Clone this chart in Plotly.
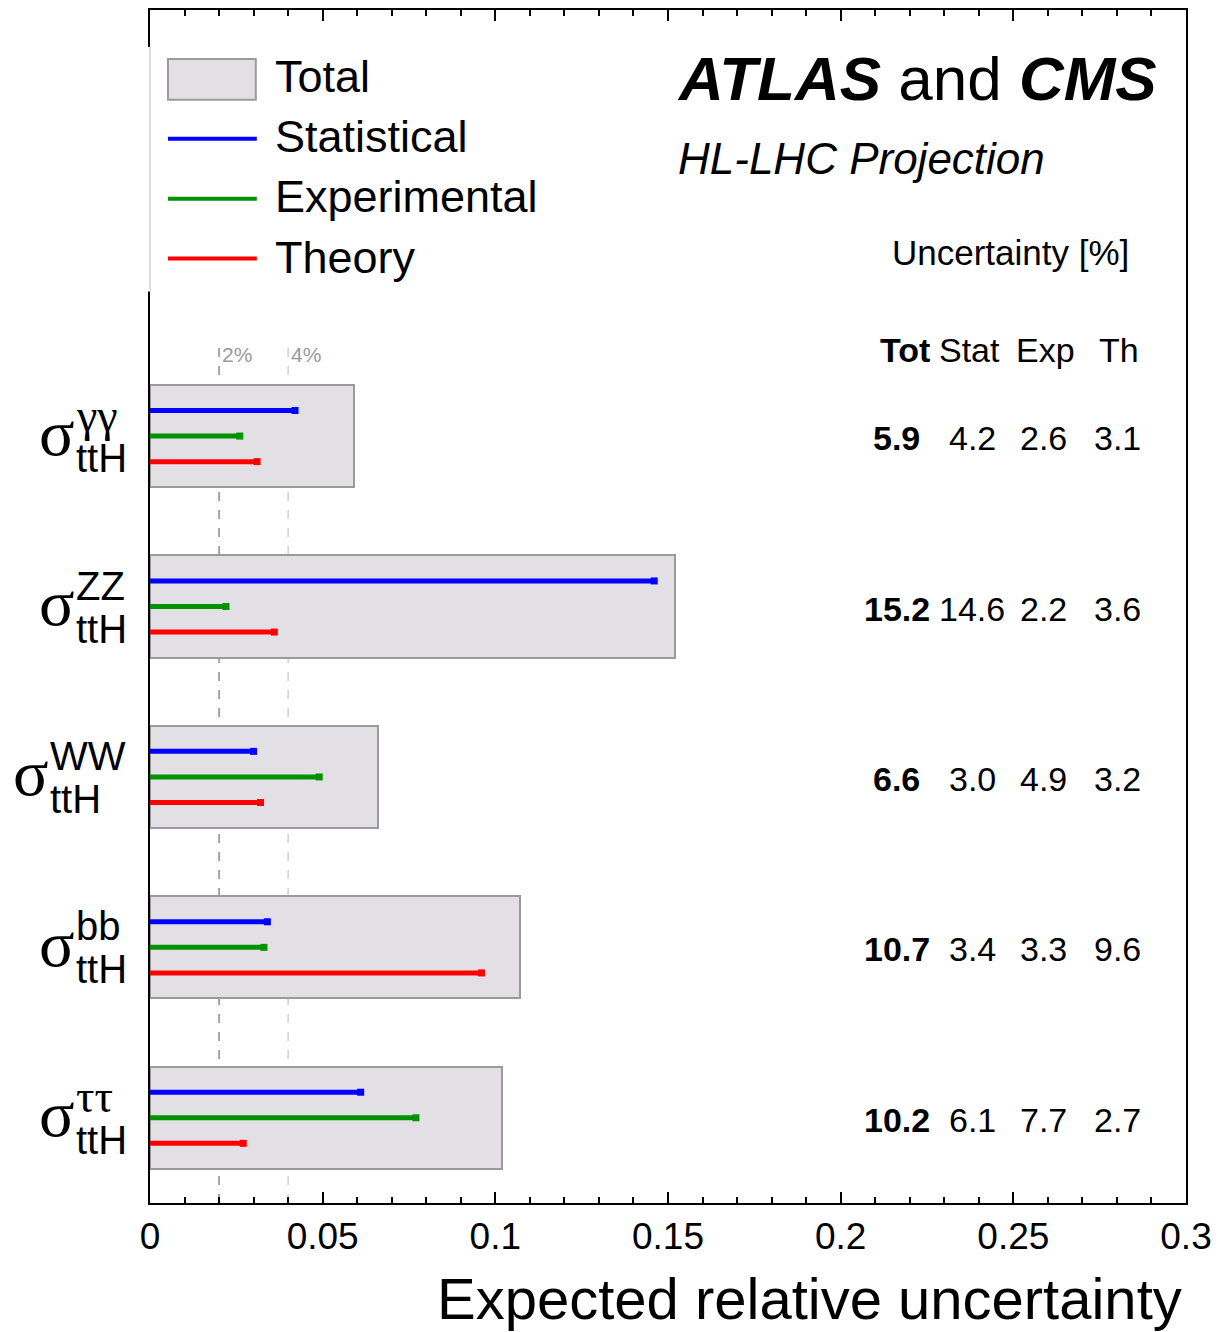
import plotly.graph_objects as go

# ---------------- data ----------------
channels = ["γγ", "ZZ", "WW", "bb", "ττ"]          # top to bottom
total = [5.9, 15.2, 6.6, 10.7, 10.2]               # %
stat = [4.2, 14.6, 3.0, 3.4, 6.1]
exp_ = [2.6, 2.2, 4.9, 3.3, 7.7]
theo = [3.1, 3.6, 3.2, 9.6, 2.7]
xticks = [0, 0.05, 0.1, 0.15, 0.2, 0.25, 0.3]
xtick_text = ["0", "0.05", "0.1", "0.15", "0.2", "0.25", "0.3"]
ref_lines = [0.02, 0.04]
ref_labels = ["2%", "4%"]
legend_names = ["Total", "Statistical", "Experimental", "Theory"]

# ---------------- layout constants ----------------
W, H = 1220, 1332
L, R, T, B = 150, 1188, 8, 1203


def px(x):
    return (x - L) / (R - L)


def py(y):
    return (B - y) / (B - T)


SANS = "Liberation Sans, Arial, Helvetica, sans-serif"
SERIF = "Liberation Serif, Times New Roman, serif"
BLUE, GREEN, RED = "#0000ff", "#009200", "#ff0000"
FILL, EDGE = "#e3e0e5", "#9a9a9a"

n = len(channels)
ypos = [n - 1 - i for i in range(n)]
off = 0.15

fig = go.Figure()

# total boxes
fig.add_trace(go.Bar(
    x=[t / 100 for t in total], y=ypos, base=0, orientation="h", width=0.6,
    marker=dict(color=FILL, line=dict(color=EDGE, width=2)), showlegend=False,
    hoverinfo="skip"))

# component lines
for vals, col, dy in [(stat, BLUE, off), (exp_, GREEN, 0.0), (theo, RED, -off)]:
    xs, ys = [], []
    for v, y in zip(vals, ypos):
        xs += [0, v / 100, None]
        ys += [y + dy, y + dy, None]
    fig.add_trace(go.Scatter(x=xs, y=ys, mode="lines", line=dict(color=col, width=5),
                             showlegend=False, hoverinfo="skip"))
    fig.add_trace(go.Scatter(x=[v / 100 for v in vals], y=[y + dy for y in ypos],
                             mode="markers",
                             marker=dict(symbol="square", size=7, color=col,
                                         line=dict(width=0)),
                             showlegend=False, hoverinfo="skip"))

shapes = []
annotations = []

# reference dashed lines
ref_cols = ["#8a8a8a", "#cfcfcf"]
for xv, lab, c in zip(ref_lines, ref_labels, ref_cols):
    shapes.append(dict(type="line", xref="x", yref="y", x0=xv, x1=xv, y0=-0.5, y1=4.53,
                       line=dict(color=c, width=1.5, dash="dash"), layer="below"))
    annotations.append(dict(xref="x", yref="paper", x=xv, y=py(353), text=lab,
                            showarrow=False, xanchor="left", yanchor="middle", xshift=1,
                            font=dict(family=SANS, size=21, color="#9a9a9a")))

# cover left axis behind legend
shapes.append(dict(type="rect", xref="paper", yref="paper", x0=px(145), x1=px(156),
                   y0=py(290), y1=py(45), fillcolor="white", line=dict(width=0),
                   layer="above"))
shapes.append(dict(type="line", xref="paper", yref="paper", x0=px(150), x1=px(150),
                   y0=py(290), y1=py(45), line=dict(color="#bbbbbb", width=1),
                   layer="above"))

# legend
leg_y = [75, 135, 195, 256]
shapes.append(dict(type="rect", xref="paper", yref="paper", x0=px(168), x1=px(256),
                   y0=py(98), y1=py(57), fillcolor=FILL, line=dict(color=EDGE, width=2)))
for yy, col in zip([137, 197, 257], [BLUE, GREEN, RED]):
    shapes.append(dict(type="line", xref="paper", yref="paper", x0=px(168), x1=px(257),
                       y0=py(yy), y1=py(yy), line=dict(color=col, width=4)))
for yy, name in zip(leg_y, legend_names):
    annotations.append(dict(xref="paper", yref="paper", x=px(273), y=py(yy), text=name,
                            showarrow=False, xanchor="left", yanchor="middle",
                            font=dict(family=SANS, size=45, color="black")))

# titles
annotations.append(dict(xref="paper", yref="paper", x=px(676), y=py(77),
                        text="<b><i>ATLAS</i></b> and <b><i>CMS</i></b>", showarrow=False,
                        xanchor="left", yanchor="middle",
                        font=dict(family=SANS, size=62, color="black")))
annotations.append(dict(xref="paper", yref="paper", x=px(677), y=py(157),
                        text="<i>HL-LHC Projection</i>", showarrow=False,
                        xanchor="left", yanchor="middle",
                        font=dict(family=SANS, size=44, color="black")))
annotations.append(dict(xref="paper", yref="paper", x=px(1133), y=py(251),
                        text="Uncertainty [%]", showarrow=False,
                        xanchor="right", yanchor="middle",
                        font=dict(family=SANS, size=35, color="black")))

# column headers and values
col_x = [898, 974, 1045, 1119]
head_x = [906, 971, 1047, 1121]
heads = ["<b>Tot</b>", "Stat", "Exp", "Th"]
for hx, h in zip(head_x, heads):
    annotations.append(dict(xref="paper", yref="paper", x=px(hx), y=py(349), text=h,
                            showarrow=False, xanchor="center", yanchor="middle",
                            font=dict(family=SANS, size=34, color="black")))
for j, arr in enumerate([total, stat, exp_, theo]):
    for v, y in zip(arr, ypos):
        t = f"{v:.1f}"
        if j == 0:
            t = f"<b>{t}</b>"
        annotations.append(dict(xref="paper", yref="y", x=px(col_x[j]), y=y, text=t,
                                showarrow=False, xanchor="center", yanchor="middle",
                                yshift=-2,
                                font=dict(family=SANS, size=34, color="black")))

# y labels: sigma with super/subscript
script_w = [54, 54, 80, 54, 54]
for ch, y, w in zip(channels, ypos, script_w):
    xr = 128 - w
    annotations.append(dict(xref="paper", yref="y", x=px(xr + 3), y=y, text="σ",
                            showarrow=False, xanchor="right", yanchor="middle",
                            yshift=4,
                            font=dict(family=SERIF, size=66, color="black")))
    greek = ch in ("γγ", "ττ")
    annotations.append(dict(xref="paper", yref="y", x=px(xr), y=y, text=ch,
                            showarrow=False, xanchor="left", yanchor="middle",
                            yshift=21,
                            font=dict(family=SERIF if greek else SANS,
                                      size=46 if greek else 40, color="black")))
    annotations.append(dict(xref="paper", yref="y", x=px(xr), y=y, text="ttH",
                            showarrow=False, xanchor="left", yanchor="middle",
                            yshift=-22,
                            font=dict(family=SANS, size=40, color="black")))

# x-axis title
annotations.append(dict(xref="paper", yref="paper", x=px(1186), y=py(1299),
                        text="Expected relative uncertainty", showarrow=False,
                        xanchor="right", yanchor="middle",
                        font=dict(family=SANS, size=58, color="black")))

fig.update_layout(
    width=W, height=H, margin=dict(l=L, r=W - R, t=T, b=H - B),
    paper_bgcolor="white", plot_bgcolor="white", showlegend=False,
    bargap=0, shapes=shapes, annotations=annotations,
    xaxis=dict(range=[0, 0.3], tickvals=xticks, ticktext=xtick_text,
               showgrid=False, zeroline=False, showline=True, linecolor="black",
               linewidth=2, mirror="allticks", ticks="inside", ticklen=11,
               tickwidth=1.5, tickcolor="black",
               minor=dict(dtick=0.01, ticks="inside", ticklen=6, tickwidth=1.5,
                          tickcolor="black", showgrid=False),
               tickfont=dict(family=SANS, size=37, color="black")),
    yaxis=dict(range=[-0.5, 6.5], showgrid=False, zeroline=False, showline=True,
               linecolor="black", linewidth=2, mirror=True, ticks="",
               showticklabels=False),
)

fig.write_html("out.html")
